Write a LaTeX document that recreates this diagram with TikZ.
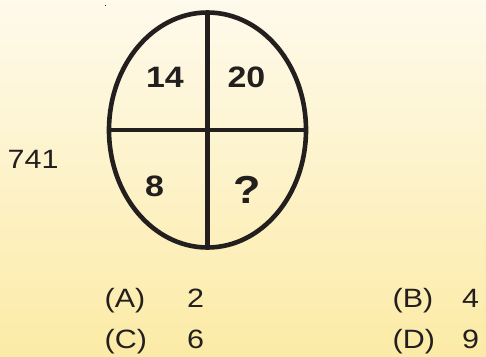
\documentclass[tikz,border=0pt]{standalone}
\usepackage{fontspec}
\usepackage{graphicx}
\setmainfont{Liberation Sans}
\definecolor{bgtop}{HTML}{FEFAEC}
\definecolor{bgbot}{HTML}{FCEBA6}
\definecolor{ink}{HTML}{231F1E}
\newcommand{\sxx}[1]{\scalebox{1.15}[1]{#1}}
\begin{document}
\begin{tikzpicture}[x=1pt,y=-1pt,
  reg/.style={text=ink, font=\fontsize{26.5}{30}\selectfont, inner sep=0pt},
  big/.style={text=ink, font=\fontsize{29.5}{32}\selectfont\bfseries, inner sep=0pt},
  ln/.style={draw=ink, line width=4.6pt}]
\shade[top color=bgtop, bottom color=bgbot] (0,0) rectangle (486,356);
\useasboundingbox (0,0) rectangle (486,356);
\fill[ink] (104.5,4.5) rectangle (105.5,5.5);
% oval
\coordinate (c) at (207.5,130);
\draw[ln] (c) ellipse [x radius=98.5, y radius=117.5];
\coordinate (t) at (207.5,12.5);
\coordinate (b) at (207.5,247.5);
\coordinate (l) at (109,130);
\coordinate (r) at (306,130);
\draw[ln] (t) -- (b);
\draw[ln] (l) -- (r);
% numbers
\node[big] (n14) at (165,77.5) {\sxx{14}};
\node[big] (n20) at (246.5,77.5) {\sxx{20}};
\node[big] (n8) at (154.5,186) {\sxx{8}};
\node[big, font=\fontsize{39}{40}\selectfont\bfseries, anchor=base] (nq) at (247.5,203) {\sxx{?}};
\node[reg, anchor=base west] (s741) at (7.5,168.5) {\sxx{741}};
% options
\node[reg, anchor=base west] (oa) at (104.5,307) {\sxx{(A)}};
\node[reg, anchor=base west] (va) at (187,307) {\sxx{2}};
\node[reg, anchor=base west] (ob) at (392.5,307) {\sxx{(B)}};
\node[reg, anchor=base west] (vb) at (462,307) {\sxx{4}};
\node[reg, anchor=base west] (oc) at (104.5,348) {\sxx{(C)}};
\node[reg, anchor=base west] (vc) at (187,348) {\sxx{6}};
\node[reg, anchor=base west] (od) at (392.5,348) {\sxx{(D)}};
\node[reg, anchor=base west] (vd) at (462,348) {\sxx{9}};
\end{tikzpicture}
\end{document}
